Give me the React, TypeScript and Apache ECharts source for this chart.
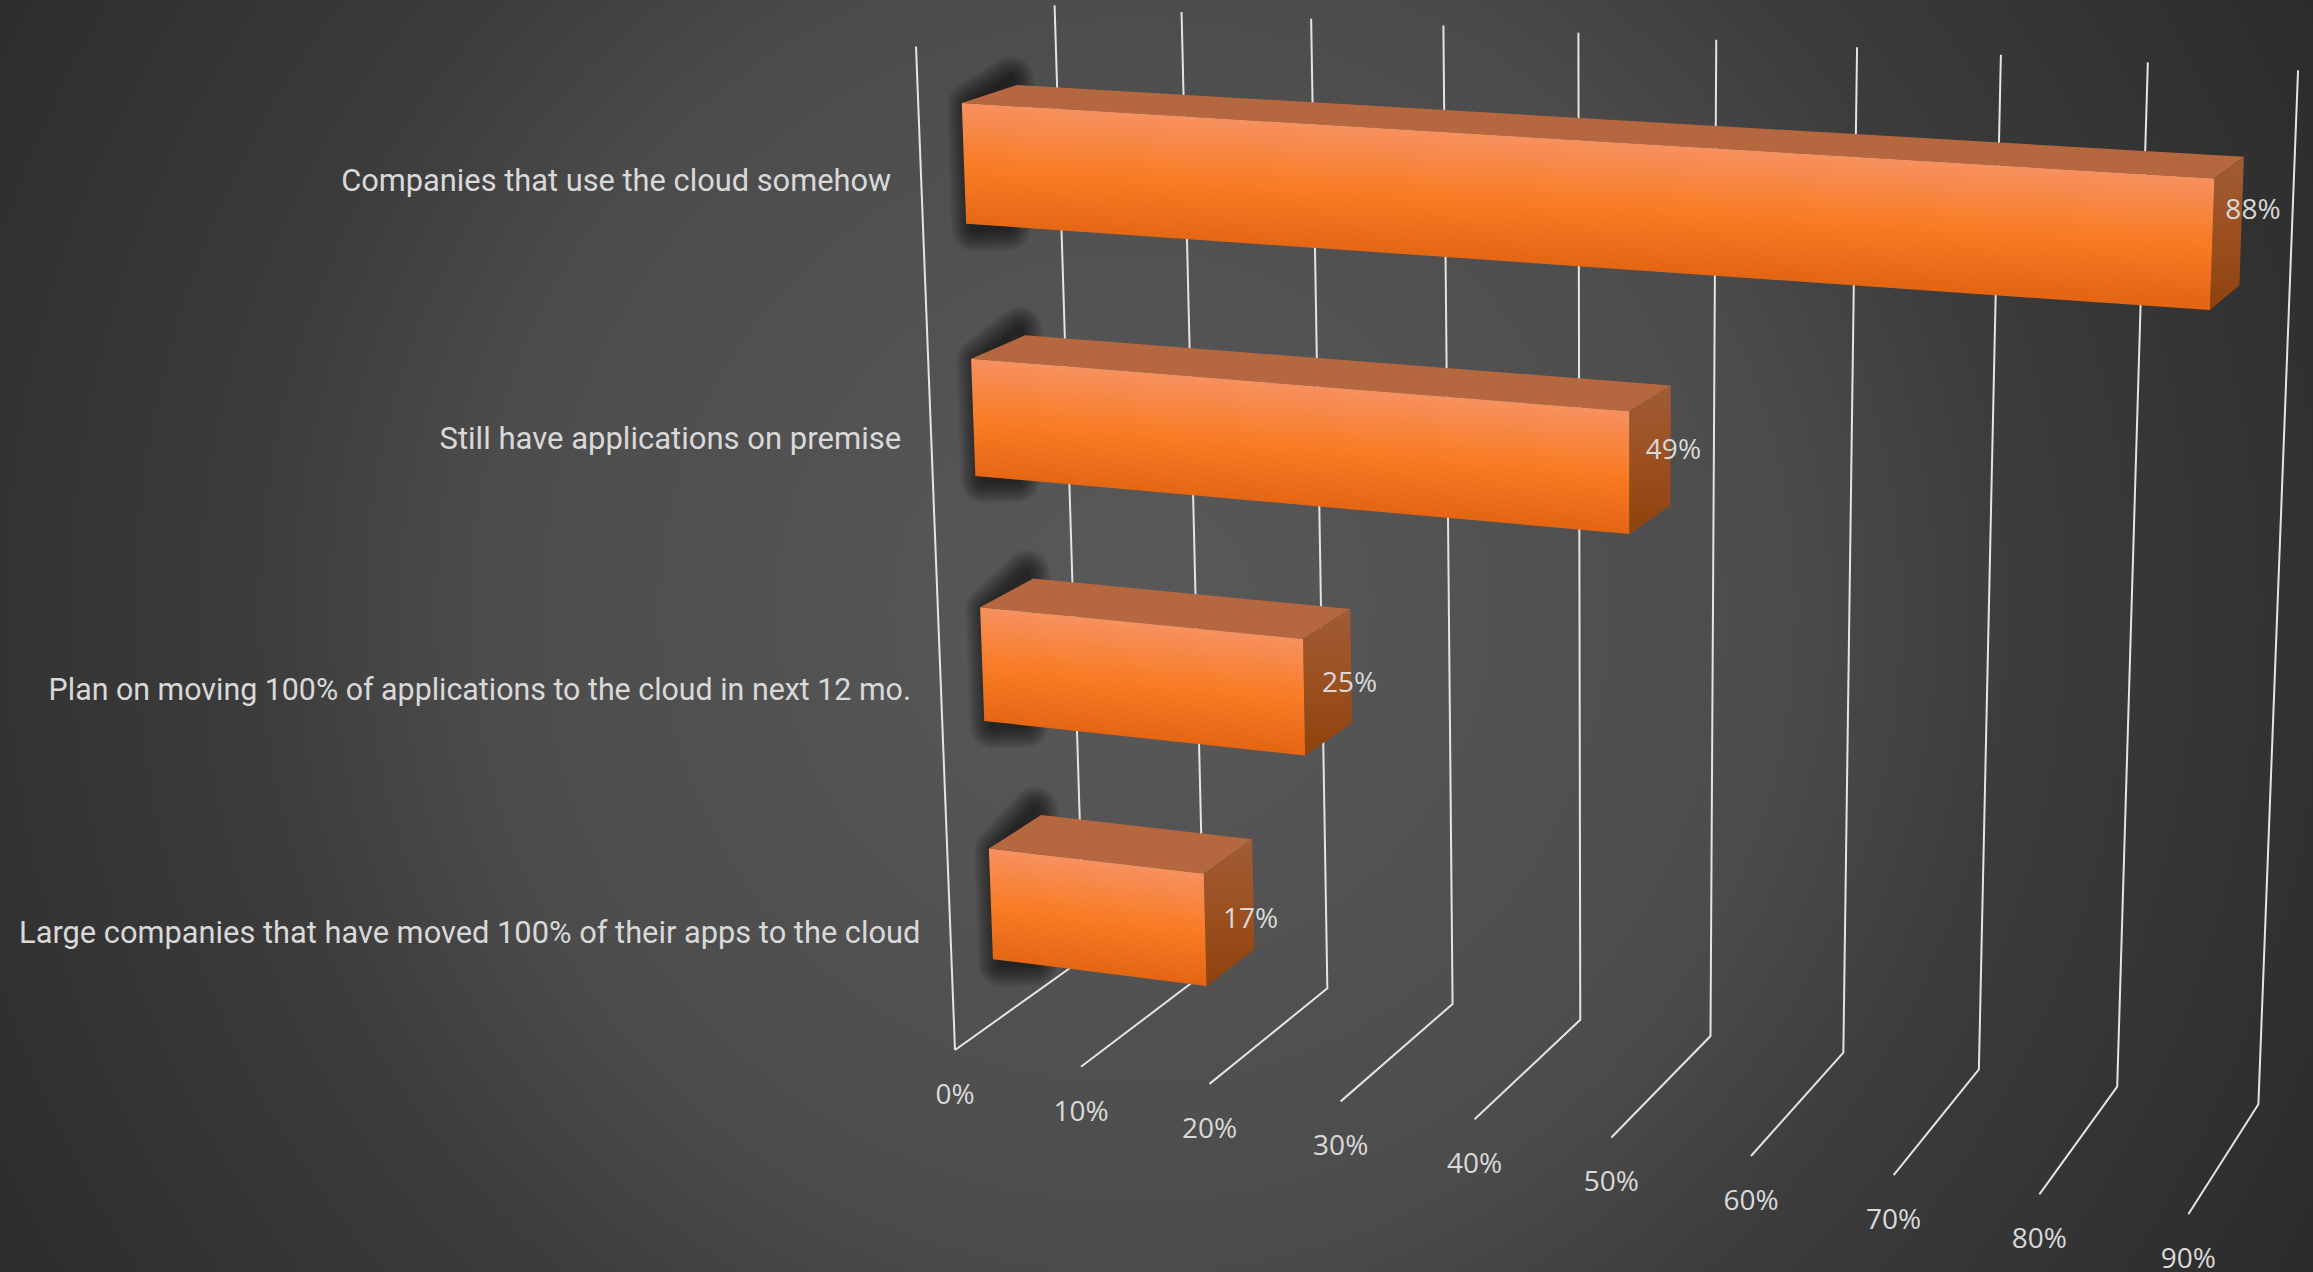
import React, { useEffect, useRef } from "react";
import * as echarts from "echarts";

const categories = [
  "Large companies that have moved 100% of their apps to the cloud",
  "Plan on moving 100% of applications to the cloud in next 12 mo.",
  "Still have applications on premise",
  "Companies that use the cloud somehow",
];
const values = [17, 25, 49, 88];
const tickValues = [0, 10, 20, 30, 40, 50, 60, 70, 80, 90];
const tickLabels = ["0%", "10%", "20%", "30%", "40%", "50%", "60%", "70%", "80%", "90%"];

const W = 2313;
const H = 1272;
const GW = 1000;
const GH = 1000;
const BAR_FRAC = 0.468;
const Z0 = 0.3;
const Z1 = 0.7;
const TEXT = "#d9d9d9";
const LINE = "#e4e4e4";
const SHADOW_LAYERS = 12;
const LABEL_FIT = [1, 0.986, 1.008, 1];

// Perspective camera: t along the value axis, h along the category axis, z into the depth.
function proj(t: number, h: number, z: number): number[] {
  const w = 1 - 0.09 * t - 0.057 * h + 0.0556 * z;
  return [
    (955 + 1036.4 * t - 91.2 * h + 189.3 * z - 1.5 * t * h) / w,
    (1050 + 55 * t - 1006 * h - 38.7 * z + 3.5 * t * h) / w,
  ];
}

function renderGrid(params: any, api: any) {
  const c = api.coord([api.value(0), 0]);
  const t = c[0] / GW;
  const children: any[] = [
    {
      type: "polyline",
      shape: { points: [proj(t, 1, 1), proj(t, 0, 1), proj(t, 0, 0)] },
      style: { stroke: LINE, fill: "none", lineWidth: 2 },
    },
  ];
  if (params.dataIndex === 0) {
    children.push({
      type: "polyline",
      shape: { points: [proj(0, 1, 0), proj(0, 0, 0)] },
      style: { stroke: LINE, fill: "none", lineWidth: 2 },
    });
  }
  const f = proj(t, 0, 0);
  children.push({
    type: "text",
    x: f[0],
    y: f[1] + 43,
    style: {
      text: tickLabels[params.dataIndex],
      fill: TEXT,
      font: '28px "Open Sans"',
      align: "center",
      textAlign: "center",
      verticalAlign: "middle",
      textVerticalAlign: "middle",
    },
  });
  return { type: "group", children };
}

function renderBar(params: any, api: any) {
  const v = api.value(0);
  const idx = api.value(1);
  const end = api.coord([v, idx]);
  const start = api.coord([0, idx]);
  const band = api.size([0, 1])[1] / GH;
  const hc = 1 - end[1] / GH;
  const t = end[0] / GW;
  const t0 = start[0] / GW;
  const hT = hc + (band * BAR_FRAC) / 2;
  const hB = hc - (band * BAR_FRAC) / 2;

  const ftl = proj(t0, hT, Z0);
  const fbl = proj(t0, hB, Z0);
  const btl = proj(t0, hT, Z1);
  const ftr = proj(t, hT, Z0);
  const fbr = proj(t, hB, Z0);
  const btr = proj(t, hT, Z1);
  const bbr = proj(t, hB, Z1);

  const topMid = proj(t / 2, hT, Z0);
  const botMid = proj(t / 2, hB, Z0);
  const dx = ftr[0] - ftl[0];
  const dy = ftr[1] - ftl[1];
  const dl = Math.hypot(dx, dy);
  const nx = -dy / dl;
  const ny = dx / dl;
  const len = (botMid[0] - topMid[0]) * nx + (botMid[1] - topMid[1]) * ny;

  // Soft shadow behind the left end of the bar, feathered by nested translucent outlines.
  const shadowPts = [
    [ftl[0] + 8, ftl[1] + 2],
    [btl[0] - 6, btl[1] - 6],
    [btl[0], btl[1] + 40],
    [fbl[0] + 42, fbl[1] + 4],
    [fbl[0] + 8, fbl[1] + 5],
    [ftl[0] + 8, ftl[1] + 2],
  ];
  const shadows: any[] = [];
  for (let k = 0; k < SHADOW_LAYERS; k++) {
    shadows.push({
      type: "polygon",
      shape: { points: shadowPts },
      style: {
        fill: "none",
        stroke: "#000",
        lineWidth: 6 + k * 3.6,
        lineJoin: "round",
        opacity: 0.06,
      },
    });
  }

  const lab = proj(t0, hc, 0);
  const endC = proj(t, hc, 0.5);

  return {
    type: "group",
    children: [
      ...shadows,
      {
        type: "polygon",
        shape: { points: [ftl, btl, btr, ftr] },
        style: { fill: "#b5683f" },
      },
      {
        type: "polygon",
        shape: { points: [ftr, btr, bbr, fbr] },
        style: {
          fill: {
            type: "linear",
            x: 0,
            y: 0,
            x2: 0,
            y2: 1,
            colorStops: [
              { offset: 0, color: "#a05c36" },
              { offset: 0.5, color: "#9c5020" },
              { offset: 1, color: "#8e420c" },
            ],
          },
        },
      },
      {
        type: "polygon",
        shape: { points: [ftl, ftr, fbr, fbl] },
        style: {
          fill: {
            type: "linear",
            global: true,
            x: topMid[0],
            y: topMid[1],
            x2: topMid[0] + nx * len,
            y2: topMid[1] + ny * len,
            colorStops: [
              { offset: 0, color: "#f69160" },
              { offset: 0.5, color: "#f97c26" },
              { offset: 1, color: "#e46613" },
            ],
          },
        },
      },
      {
        type: "text",
        x: lab[0] - 30,
        y: lab[1] + 1.5,
        scaleX: LABEL_FIT[idx],
        style: {
          text: categories[idx],
          fill: TEXT,
          font: "30.8px Roboto",
          align: "right",
          textAlign: "right",
          verticalAlign: "middle",
          textVerticalAlign: "middle",
        },
      },
      {
        type: "text",
        x: endC[0] + 20 + 6 * t,
        y: endC[1] + 6.5 - 8.16 * hc - 31.8 * hc * hc,
        style: {
          text: v + "%",
          fill: TEXT,
          font: '28px "Open Sans"',
          align: "center",
          textAlign: "center",
          verticalAlign: "middle",
          textVerticalAlign: "middle",
        },
      },
    ],
  };
}

export default function App() {
  const ref = useRef<HTMLDivElement>(null);
  useEffect(() => {
    document.body.style.margin = "0";
    const chart = echarts.init(ref.current!, undefined, { renderer: "svg" });
    chart.setOption({
      animation: false,
      graphic: [
        {
          type: "rect",
          z: -10,
          silent: true,
          shape: { x: 0, y: 0, width: W, height: H },
          style: {
            fill: new echarts.graphic.RadialGradient(
              1133,
              610,
              1340,
              [
                { offset: 0, color: "#595959" },
                { offset: 0.48, color: "#4c4c4c" },
                { offset: 0.657, color: "#3c3c3c" },
                { offset: 0.963, color: "#2d2d2d" },
                { offset: 1, color: "#2b2b2b" },
              ],
              true
            ),
          },
        },
      ],
      grid: { left: 0, top: 0, width: GW, height: GH },
      xAxis: { type: "value", min: 0, max: 90, interval: 10, show: false },
      yAxis: { type: "category", data: categories, show: false },
      series: [
        {
          type: "custom",
          renderItem: renderGrid,
          data: tickValues.map((v) => [v, 0]),
          encode: { x: 0, y: 1 },
          z: 1,
          silent: true,
        },
        {
          type: "custom",
          renderItem: renderBar,
          data: values.map((v, i) => [v, i]),
          encode: { x: 0, y: 1 },
          z: 2,
          silent: true,
        },
      ],
    });
    return () => chart.dispose();
  }, []);
  return (
    <div
      ref={ref}
      style={{ position: "absolute", left: 0, top: 0, width: W, height: H, overflow: "hidden" }}
    />
  );
}
